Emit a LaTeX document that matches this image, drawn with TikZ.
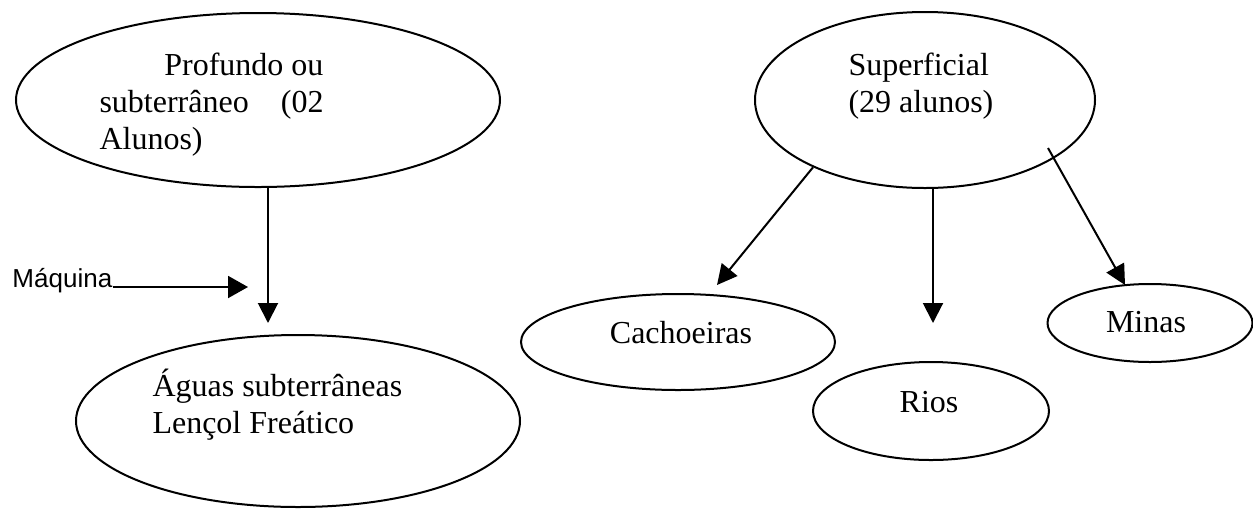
\documentclass[tikz,border=0pt]{standalone}
\usepackage{fontspec}
\setmainfont{Liberation Serif}
\newfontfamily\arialf{Liberation Sans}
\usetikzlibrary{shapes.geometric,arrows.meta}
\tikzset{
  ell/.style={draw, ellipse, line width=0.8pt, inner sep=0pt},
  lbl/.style={inner sep=0pt, font=\fontsize{12.8}{14.8}\selectfont, anchor=base west},
  lblc/.style={inner sep=0pt, font=\fontsize{12.8}{14.8}\selectfont, anchor=base},
  arr/.style={line width=0.8pt, -{Triangle[length=8pt,width=8pt]}},
  arrm/.style={line width=0.8pt, -{Triangle[length=8pt,width=8.8pt]}},
}
\begin{document}
\begin{tikzpicture}[x=0.4pt,y=-0.4pt]
\useasboundingbox (0,0) rectangle (1253,508);
% ellipses
\node[ell, minimum width=193.6pt, minimum height=69.6pt] (e1) at (258,100) {};
\node[ell, minimum width=177.6pt, minimum height=68.8pt] (e2) at (298,421) {};
\node[ell, minimum width=136pt, minimum height=70.4pt] (e3) at (925,100) {};
\node[ell, minimum width=125.6pt, minimum height=38.4pt] (cach) at (678,342) {};
\node[ell, minimum width=94.4pt, minimum height=39.2pt] (rios) at (931,411) {};
\node[ell, minimum width=82pt, minimum height=31.2pt] (minas) at (1150,323) {};
% texts
\node[lbl] (t1) at (99,75) {\begin{tabular}[t]{@{}l@{}}\makebox[89.6pt][r]{Profundo ou}\\ \makebox[89.6pt][s]{subterrâneo\hfill(02}\\ Alunos)\end{tabular}};
\node[lbl] (t2) at (152,396) {\begin{tabular}[t]{@{}l@{}}Águas subterrâneas\\ Lençol Freático\end{tabular}};
\node[lbl] (t3) at (848,75) {\begin{tabular}[t]{@{}l@{}}Superficial\\ (29 alunos)\end{tabular}};
\node[lblc] (t4) at (681,343) {Cachoeiras};
\node[lblc] (t5) at (929,412) {Rios};
\node[lblc] (t6) at (1146,332) {Minas};
\node[inner sep=0pt, anchor=base west, font=\arialf\fontsize{10.4}{12}\selectfont] (maq) at (12,287) {Máquina};
% connectors
\coordinate (tipM) at (248,287);
\draw[arrm] (maq.base east) -- (tipM);
\coordinate (tipV) at (268,323);
\draw[arr] (e1.south -| tipV) -- (tipV);
\coordinate (tipC) at (717,285);
\draw[arr] (e3.211.7) -- (tipC);
\coordinate (tipR) at (933,323);
\draw[arr] (e3.south -| tipR) -- (tipR);
\coordinate (tipMi) at (1125,285);
\draw[arr] ([shift={(123,48)}]e3.center) -- (tipMi);
\end{tikzpicture}
\end{document}
